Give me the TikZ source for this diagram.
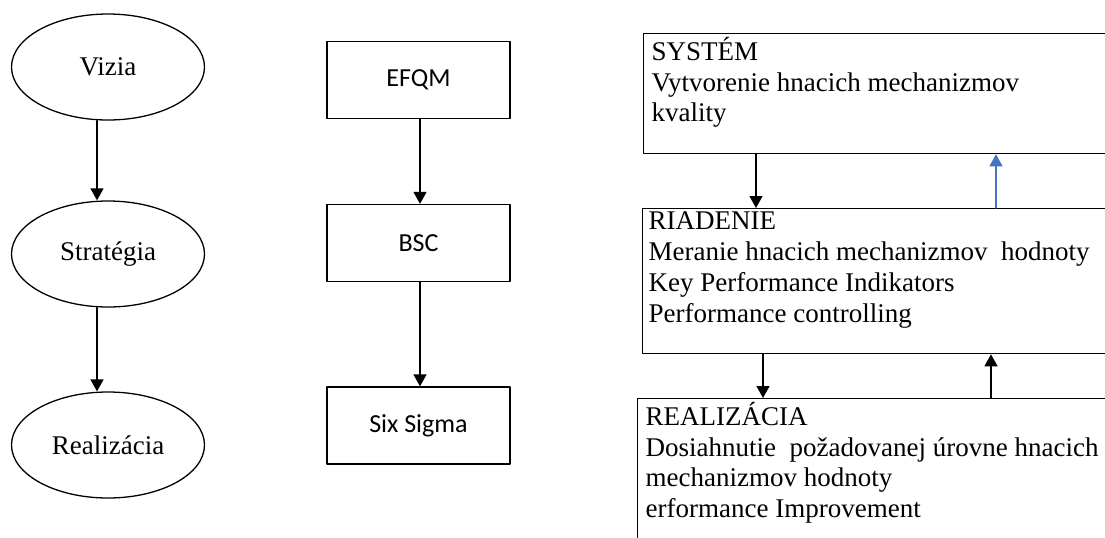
\documentclass[tikz,border=0pt]{standalone}
\usepackage{fontspec}
\setmainfont{Liberation Serif}
\newfontfamily\boxfont{Carlito}
\usetikzlibrary{shapes.geometric,arrows.meta}

\definecolor{upblue}{RGB}{68,114,196}
\tikzset{
  oval/.style={draw, ellipse, inner sep=0pt, minimum width=96.5pt, minimum height=53pt,
    font=\fontsize{13.5}{15.5}\selectfont},
  stepbox/.style={draw, rectangle, inner sep=0pt, minimum width=91.5pt, minimum height=38.5pt,
    font=\boxfont\fontsize{13}{15}\selectfont},
  panel/.style={draw, rectangle, anchor=north west, inner sep=0pt, minimum width=240pt},
  paneltext/.style={anchor=north west, inner sep=0pt, align=left,
    font=\fontsize{13.5}{15.35}\selectfont, execute at begin node=\strut},
  arr/.style={-{Triangle[length=6pt,width=6.5pt]}},
}

\begin{document}
\begin{tikzpicture}[line cap=round, line join=round, x=0.5pt, y=-0.5pt, line width=0.65pt]
                \useasboundingbox (0,0) rectangle (1105,537);
                \clip (0,0) rectangle (1105,537);
                % left column
                \foreach \name/\txt/\y in {vizia/Vizia/67, strategia/Stratégia/254, realizacia/Realizácia/445}
                    \node[oval] (\name) at (108,\y) {\txt};
                \foreach \a/\b in {vizia/strategia, strategia/realizacia}
                    \draw[arr] ([xshift=-5.5pt]\a.south) -- ([xshift=-5.5pt]\a.south |- \b.north);
                % middle column
                \foreach \name/\txt/\y in {efqm/EFQM/80, bsc/BSC/243, sixsigma/Six Sigma/425.5}
                    \node[stepbox] (\name) at (418.5,\y) {\txt};
                \foreach \a/\b in {efqm/bsc, bsc/sixsigma}
                    \draw[arr] ([xshift=0.75pt]\a.south) -- ([xshift=0.75pt]\a.south |- \b.north);
                % right column
                \node[panel, minimum height=60pt] (sys) at (643,33) {};
                \node[panel, minimum height=72.5pt] (rid) at (642,208) {};
                \node[panel, minimum height=90pt] (rea) at (637,398) {};
                \node[paneltext] (systxt) at ([xshift=4pt,yshift=-1.75pt]sys.north west)
                    {SYSTÉM\\Vytvorenie hnacich mechanizmov\\kvality};
                \node[paneltext] (ridtxt) at ([xshift=3pt,yshift=-1.75pt]rid.north west)
                    {RIADENIE\\Meranie hnacich mechanizmov\ \ hodnoty\\Key Performance Indikators\\Performance controlling};
                \node[paneltext] (reatxt) at ([xshift=4pt,yshift=-1.75pt]rea.north west)
                    {REALIZÁCIA\\Dosiahnutie\ \ požadovanej úrovne hnacich\\mechanizmov hodnoty\\erformance Improvement};
                \draw[arr] ([xshift=56.5pt]sys.south west) -- ([xshift=56.5pt]sys.south west |- rid.north);
                \draw[arr, upblue] ([xshift=177pt]rid.north west) -- ([xshift=177pt]rid.north west |- sys.south);
                \draw[arr] ([xshift=60.5pt]rid.south west) -- ([xshift=60.5pt]rid.south west |- rea.north);
                \draw[arr] ([xshift=174.5pt]rid.south west |- rea.north) -- ([xshift=174.5pt]rid.south west);
            \end{tikzpicture}
\end{document}
